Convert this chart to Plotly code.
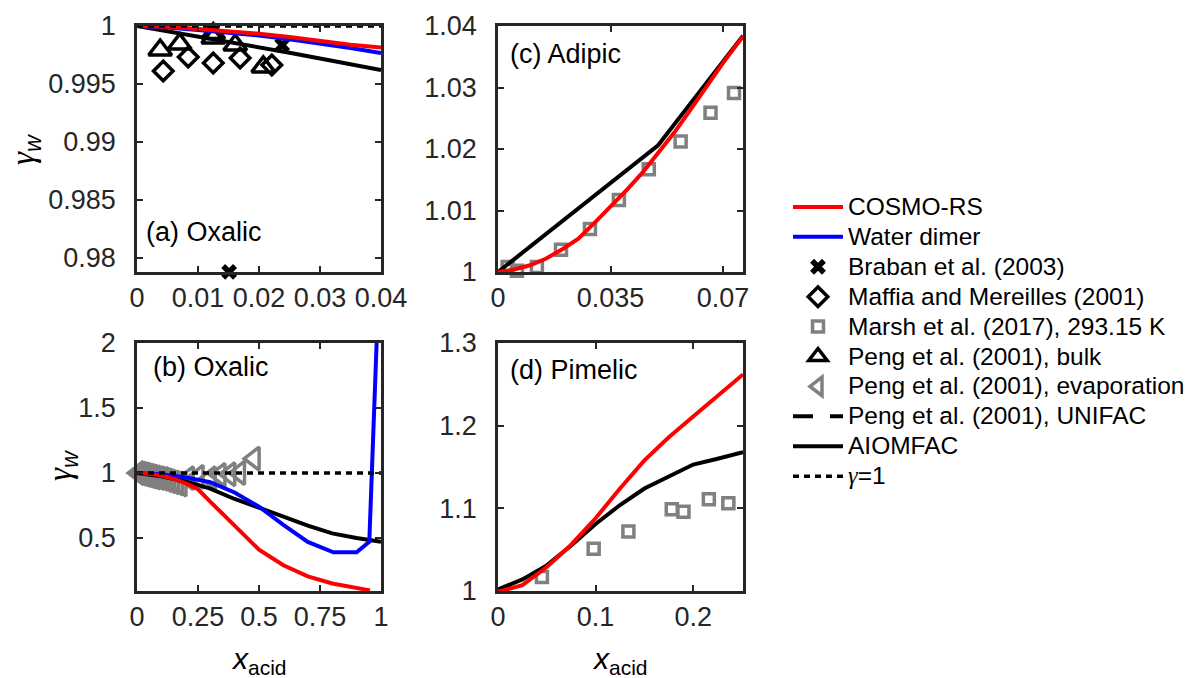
import plotly.graph_objects as go

W, H = 1192, 678

# ---------------- data ----------------
# (a) Oxalic, dilute range
a_model_x = [0, 0.005, 0.01, 0.015, 0.02, 0.025, 0.03, 0.035, 0.04]
a_cosmo_y = [1.0, 0.99993, 0.99975, 0.99955, 0.99934, 0.99905, 0.99872, 0.99838, 0.99815]
a_dimer_y = [1.0, 0.99988, 0.99965, 0.99942, 0.99918, 0.99885, 0.99850, 0.99810, 0.99767]
a_aiomfac_y = [1.0, 0.99955, 0.99910, 0.99865, 0.99818, 0.99770, 0.99720, 0.99671, 0.99621]
a_braban_x = [0.0151, 0.0238]
a_braban_y = [0.9788, 0.99836]
a_maffia_x = [0.0043, 0.0084, 0.0125, 0.0169, 0.0221]
a_maffia_y = [0.99612, 0.99733, 0.99681, 0.99724, 0.99664]
a_pengbulk_x = [0.0038, 0.0070, 0.0125, 0.0125, 0.0161, 0.0207]
a_pengbulk_y = [0.99793, 0.99845, 0.99897, 0.99935, 0.99836, 0.99647]

# (b) Oxalic, full range
b_cosmo_x = [0, 0.05, 0.1, 0.15, 0.2, 0.25, 0.3, 0.4, 0.5, 0.6, 0.7, 0.8, 0.9, 0.955]
b_cosmo_y = [1.0, 0.995, 0.98, 0.955, 0.92, 0.875, 0.78, 0.59, 0.41, 0.29, 0.205, 0.15, 0.115, 0.097]
b_dimer_x = [0, 0.1, 0.2, 0.3, 0.4, 0.5, 0.6, 0.7, 0.805, 0.9, 0.952, 0.984]
b_dimer_y = [1.0, 0.99, 0.965, 0.93, 0.85, 0.74, 0.60, 0.47, 0.39, 0.39, 0.47, 2.1]
b_aiomfac_x = [0, 0.1, 0.2, 0.3, 0.4, 0.5, 0.6, 0.7, 0.8, 0.9, 1.0]
b_aiomfac_y = [1.0, 0.975, 0.935, 0.88, 0.80, 0.735, 0.665, 0.595, 0.535, 0.50, 0.47]
b_pengevap_x = [0.005, 0.015, 0.025, 0.035, 0.045, 0.055, 0.065, 0.075, 0.09, 0.105,
                0.12, 0.135, 0.15, 0.165, 0.18, 0.21, 0.25, 0.30, 0.34, 0.38, 0.42, 0.48]
b_pengevap_y = [1.0, 0.995, 0.99, 0.985, 0.98, 0.975, 0.97, 0.965, 0.96, 0.955,
                0.945, 0.935, 0.928, 0.92, 0.91, 0.96, 0.97, 0.96, 0.985, 0.99, 1.0, 1.11]

# (c) Adipic
c_marsh_x = [0.0030, 0.0059, 0.0121, 0.0196, 0.0286, 0.0376, 0.0469, 0.0568, 0.0661, 0.0734]
c_marsh_y = [1.0008, 1.0002, 1.0008, 1.0036, 1.0070, 1.0117, 1.0167, 1.0212, 1.0259, 1.0291]
c_aiomfac_x = [0, 0.01, 0.02, 0.03, 0.04, 0.0498, 0.06, 0.07, 0.0762]
c_aiomfac_y = [1.0, 1.00414, 1.00827, 1.0124, 1.0165, 1.0206, 1.0275, 1.0342, 1.0384]
c_cosmo_x = [0, 0.005, 0.01, 0.015, 0.02, 0.025, 0.03, 0.035, 0.04, 0.045, 0.05,
             0.055, 0.06, 0.065, 0.07, 0.0762]
c_cosmo_y = [1.0, 1.0004, 1.0011, 1.0022, 1.0037, 1.0054, 1.0080, 1.0106, 1.0133, 1.0162,
             1.0194, 1.0228, 1.0265, 1.0302, 1.0340, 1.0383]

# (d) Pimelic
d_marsh_x = [0.0075, 0.045, 0.098, 0.1336, 0.178, 0.190, 0.216, 0.236]
d_marsh_y = [0.998, 1.017, 1.051, 1.072, 1.099, 1.096, 1.111, 1.106]
d_model_x = [0, 0.025, 0.05, 0.075, 0.1, 0.125, 0.15, 0.175, 0.2, 0.225, 0.251]
d_aiomfac_y = [1.002, 1.014, 1.031, 1.055, 1.081, 1.104, 1.124, 1.139, 1.153, 1.160, 1.168]
d_cosmo_y = [0.999, 1.007, 1.029, 1.056, 1.088, 1.124, 1.158, 1.186, 1.211, 1.236, 1.262]

# axis ranges and ticks
a_xrange, a_yrange = [0, 0.04], [0.97879, 1.0]
b_xrange, b_yrange = [0, 1], [0.092, 2]
c_xrange, c_yrange = [0, 0.0762], [1, 1.04]
d_xrange, d_yrange = [0, 0.251], [1, 1.3]
a_xticks = [0, 0.01, 0.02, 0.03, 0.04]
a_xtext = ["0", "0.01", "0.02", "0.03", "0.04"]
a_yticks = [0.98, 0.985, 0.99, 0.995, 1.0]
a_ytext = ["0.98", "0.985", "0.99", "0.995", "1"]
b_xticks = [0, 0.25, 0.5, 0.75, 1]
b_xtext = ["0", "0.25", "0.5", "0.75", "1"]
b_yticks = [0.5, 1, 1.5, 2]
b_ytext = ["0.5", "1", "1.5", "2"]
c_xticks = [0, 0.035, 0.07]
c_xtext = ["0", "0.035", "0.07"]
c_yticks = [1, 1.01, 1.02, 1.03, 1.04]
c_ytext = ["1", "1.01", "1.02", "1.03", "1.04"]
d_xticks = [0, 0.1, 0.2]
d_xtext = ["0", "0.1", "0.2"]
d_yticks = [1, 1.1, 1.2, 1.3]
d_ytext = ["1", "1.1", "1.2", "1.3"]

# ---------------- styles ----------------
RED, BLUE, BLACK, GRAY = "#ff0000", "#0000ff", "#000000", "#808080"
AX = "#262626"
FONT = "Liberation Sans"
LW = 4

def px(x):
    return x / W

def py(y):
    return 1 - y / H

fig = go.Figure()

LEG = "<span style='font-size:24.5px'>%s</span>"
names = {
    "cosmo": "COSMO-RS",
    "dimer": "Water dimer",
    "braban": "Braban et al. (2003)",
    "maffia": "Maffia and Mereilles (2001)",
    "marsh": "Marsh et al. (2017), 293.15 K",
    "pengbulk": "Peng et al. (2001), bulk",
    "pengevap": "Peng et al. (2001), evaporation",
    "unifac": "Peng et al. (2001), UNIFAC",
    "aiomfac": "AIOMFAC",
    "ideal": "<span style='font-family:Liberation Serif'><i>γ</i></span>=1",
}
rank = {k: i for i, k in enumerate(names)}
shown = set()

def add(key, x, y, ax, **kw):
    show = key not in shown
    shown.add(key)
    fig.add_trace(go.Scatter(x=x, y=y, name=LEG % names[key], legendrank=rank[key] + 1,
                             showlegend=show, legendgroup=key,
                             xaxis="x" + ax, yaxis="y" + ax, hoverinfo="skip", **kw))

def line(key, x, y, ax, color, dash="solid", width=LW):
    add(key, x, y, ax, mode="lines", line=dict(color=color, width=width, dash=dash))

def marks(key, x, y, ax, symbol, color, size, lw=3.5):
    add(key, x, y, ax, mode="markers", cliponaxis=False,
        marker=dict(symbol=symbol, size=size, color=color,
                    line=dict(color=color, width=lw)))

DOT = "6px,5px"

# markers first
marks("braban", a_braban_x, a_braban_y, "", "x", BLACK, 14, 0)
marks("maffia", a_maffia_x, a_maffia_y, "", "diamond-open", BLACK, 15)
marks("marsh", c_marsh_x, c_marsh_y, "3", "square-open", GRAY, 11)
marks("marsh", d_marsh_x, d_marsh_y, "4", "square-open", GRAY, 11)
marks("pengbulk", a_pengbulk_x, a_pengbulk_y, "", "triangle-up-open", BLACK, 20)
marks("pengevap", b_pengevap_x, b_pengevap_y, "2", "triangle-left-open", GRAY, 20, 3.5)
# UNIFAC entry (not visible in the panels)
line("unifac", [None], [None], "", BLACK, dash="20px,17px")

# model lines
line("aiomfac", a_model_x, a_aiomfac_y, "", BLACK)
line("aiomfac", b_aiomfac_x, b_aiomfac_y, "2", BLACK)
line("aiomfac", c_aiomfac_x, c_aiomfac_y, "3", BLACK)
line("aiomfac", d_model_x, d_aiomfac_y, "4", BLACK)
line("dimer", a_model_x, a_dimer_y, "", BLUE)
line("dimer", b_dimer_x, b_dimer_y, "2", BLUE)
line("cosmo", a_model_x, a_cosmo_y, "", RED)
line("cosmo", b_cosmo_x, b_cosmo_y, "2", RED)
line("cosmo", c_cosmo_x, c_cosmo_y, "3", RED)
line("cosmo", d_model_x, d_cosmo_y, "4", RED)
# gamma = 1 reference
line("ideal", a_xrange, [1, 1], "", BLACK, dash=DOT, width=3.5)
line("ideal", b_xrange, [1, 1], "2", BLACK, dash=DOT, width=3.5)

# ---------------- axes ----------------
dom_x_left = [px(137), px(381)]
dom_x_right = [px(498), px(743)]
dom_y_top = [py(272), py(26)]
dom_y_bot = [py(591), py(343)]

def axis(domain, rng, tv, tt, anchor, standoff):
    return dict(domain=domain, range=rng, tickvals=tv, ticktext=tt, anchor=anchor,
                showline=True, linecolor=AX, linewidth=2.5, mirror="allticks",
                ticks="inside", ticklen=6, tickwidth=2, tickcolor=AX,
                showgrid=False, zeroline=False, automargin=False,
                ticklabelstandoff=standoff,
                tickfont=dict(family=FONT, size=27, color=AX))

XS, YS = 0, 13
fig.update_layout(
    xaxis=axis(dom_x_left, a_xrange, a_xticks, a_xtext, "y", XS),
    yaxis=axis(dom_y_top, a_yrange, a_yticks, a_ytext, "x", YS),
    xaxis2=axis(dom_x_left, b_xrange, b_xticks, b_xtext, "y2", XS),
    yaxis2=axis(dom_y_bot, b_yrange, b_yticks, b_ytext, "x2", YS),
    xaxis3=axis(dom_x_right, c_xrange, c_xticks, c_xtext, "y3", XS),
    yaxis3=axis(dom_y_top, c_yrange, c_yticks, c_ytext, "x3", YS),
    xaxis4=axis(dom_x_right, d_xrange, d_xticks, d_xtext, "y4", XS),
    yaxis4=axis(dom_y_bot, d_yrange, d_yticks, d_ytext, "x4", YS),
)

# ---------------- annotations ----------------
ann = []

def text(x, y, s, size=27, xanchor="left", angle=0, color=BLACK):
    ann.append(dict(x=px(x), y=py(y), xref="paper", yref="paper", text=s,
                    showarrow=False, xanchor=xanchor, yanchor="middle",
                    textangle=angle, font=dict(family=FONT, size=size, color=color)))

text(144, 232, "(a) Oxalic")
text(151, 367, "(b) Oxalic")
text(508, 54, "(c) Adipic")
text(508, 370, "(d) Pimelic")

ytitle = "<span style='font-family:Liberation Serif'><i>γ</i></span><sub><i>w</i></sub>"
text(25, 150, ytitle, size=33, xanchor="center", angle=-90)
text(62, 466, ytitle, size=33, xanchor="center", angle=-90)
xtitle = "<i>x</i><sub>acid</sub>"
text(259, 660, xtitle, size=30, xanchor="center")
text(620, 660, xtitle, size=30, xanchor="center")

fig.update_layout(
    width=W, height=H,
    margin=dict(l=0, r=0, t=0, b=0),
    paper_bgcolor="white", plot_bgcolor="white",
    annotations=ann,
    font=dict(family=FONT, color=BLACK),
    legend=dict(x=px(788), y=py(187), xanchor="left", yanchor="top",
                font=dict(family=FONT, size=20.7, color=BLACK),
                itemwidth=50, bgcolor="rgba(0,0,0,0)", borderwidth=0,
                tracegroupgap=0),
)

fig.write_html("out.html")
